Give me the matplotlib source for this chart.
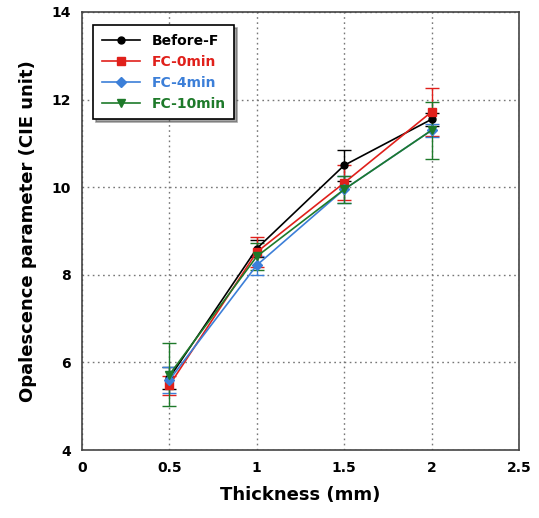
import matplotlib
matplotlib.use("Agg")
import matplotlib.pyplot as plt

thickness = [0.5, 1.0, 1.5, 2.0]

before_f = [5.65, 8.6, 10.5, 11.55]
before_f_err = [0.25, 0.2, 0.35, 0.15]
fc_0 = [5.48, 8.52, 10.1, 11.72]
fc_0_err = [0.22, 0.35, 0.4, 0.55]
fc_4 = [5.6, 8.22, 9.95, 11.3]
fc_4_err = [0.3, 0.22, 0.3, 0.15]
fc_10 = [5.72, 8.42, 9.95, 11.3]
fc_10_err = [0.72, 0.3, 0.3, 0.65]

labels = ['Before-F', 'FC-0min', 'FC-4min', 'FC-10min']
colors = ['black', '#e0201b', '#3c7fd8', '#1e7a2a']
markers = ['o', 's', 'D', 'v']
msizes = [5, 6, 5, 6]

fig = plt.figure(figsize=(5.39, 5.18), dpi=100)
ax = fig.add_axes([0.152, 0.131, 0.811, 0.846])

series = [(before_f, before_f_err), (fc_0, fc_0_err), (fc_4, fc_4_err), (fc_10, fc_10_err)]
handles = []
for (y, e), lab, c, m, ms in zip(series, labels, colors, markers, msizes):
	cont = ax.errorbar(thickness, y, yerr=e, color=c, marker=m, markersize=ms, lw=1.2,
		capsize=5, elinewidth=1, capthick=1, label=lab)
	handles.append(cont[0])

ax.set_xlim(0, 2.5)
ax.set_ylim(4, 14)
ax.set_xticks([0, 0.5, 1, 1.5, 2, 2.5])
ax.set_xticklabels(['0', '0.5', '1', '1.5', '2', '2.5'])
ax.set_yticks([4, 6, 8, 10, 12, 14])
ax.grid(True, linestyle=(0, (1.2, 2.5)), color='#777777', lw=1)
ax.tick_params(direction='in', length=0, labelsize=10, pad=8)
for t in ax.get_xticklabels() + ax.get_yticklabels():
	t.set_fontweight('bold')
for s in ax.spines.values():
	s.set_color('#444444')
	s.set_linewidth(1.2)

ax.set_xlabel('Thickness (mm)', fontsize=13, fontweight='bold', labelpad=8)
ax.set_ylabel('Opalescence parameter (CIE unit)', fontsize=13, fontweight='bold', labelpad=10)

leg = ax.legend(handles=handles, labels=labels, loc='upper left', bbox_to_anchor=(0.01, 0.985),
	frameon=True, fancybox=False, shadow=True, prop={'weight': 'bold', 'size': 10},
	handlelength=2.8, borderpad=0.6, labelspacing=0.5)
leg.get_frame().set_edgecolor('black')
leg.get_frame().set_linewidth(1.2)
for txt, c in zip(leg.get_texts(), colors):
	txt.set_color(c)

fig.savefig('out.png', dpi=100)
plt.close(fig)
